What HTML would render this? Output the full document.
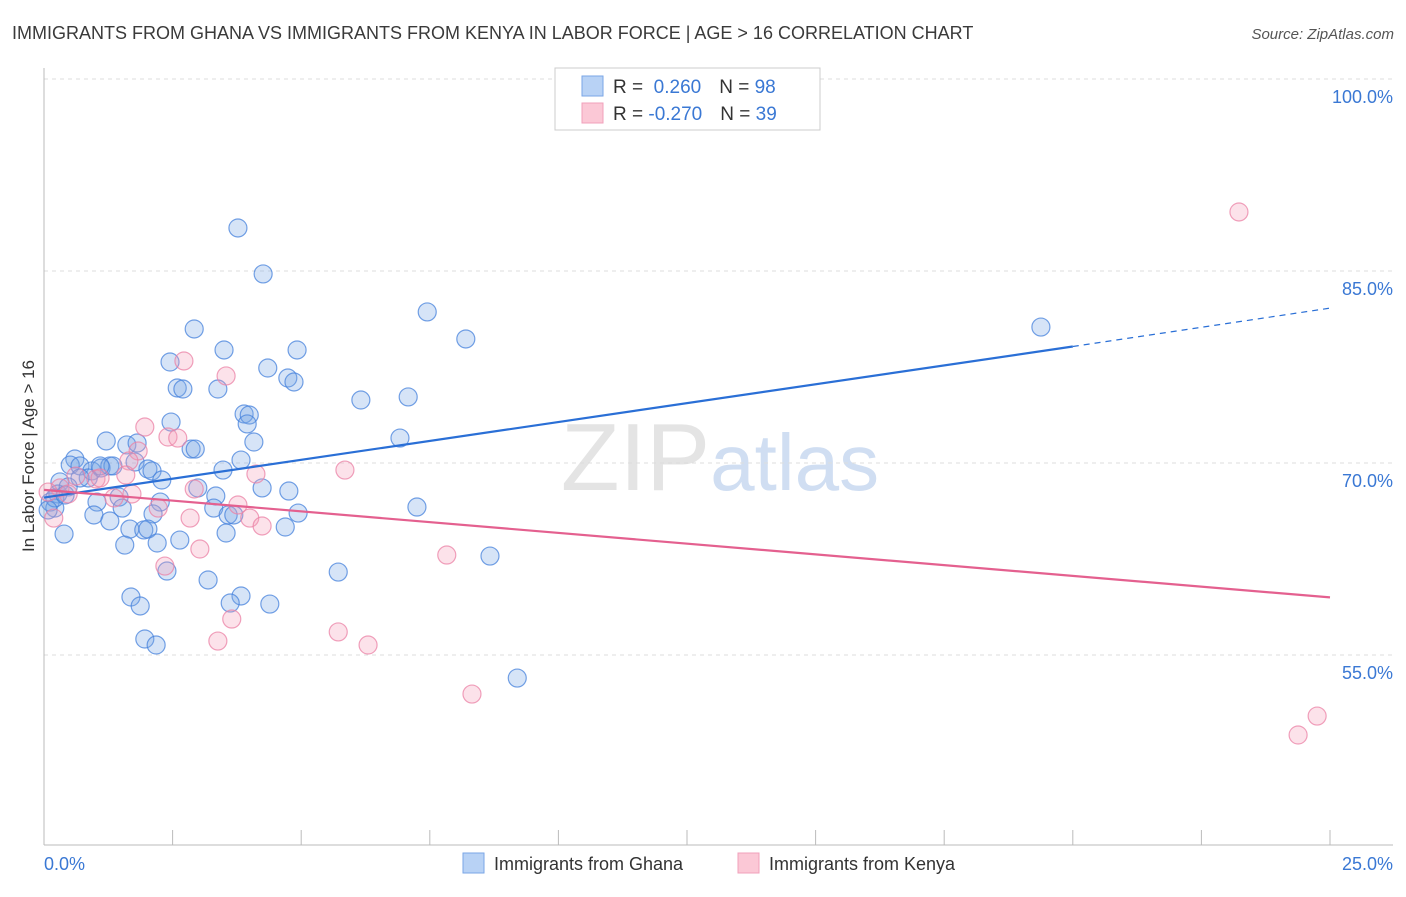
<!DOCTYPE html>
<html><head><meta charset="utf-8"><style>
body{margin:0;background:#fff;font-family:"Liberation Sans",sans-serif;}
svg text{font-family:"Liberation Sans",sans-serif;}
</style></head><body>
<svg id="chart" width="1406" height="892" xmlns="http://www.w3.org/2000/svg">
<text x="12" y="39" font-size="18" fill="#3a3a3a">IMMIGRANTS FROM GHANA VS IMMIGRANTS FROM KENYA IN LABOR FORCE | AGE &gt; 16 CORRELATION CHART</text>
<text x="1394" y="39" font-size="15" fill="#555" font-style="italic" text-anchor="end">Source: ZipAtlas.com</text>
<text x="720" y="490" font-size="96" text-anchor="middle" fill="#e4e4e4" font-family="Liberation Serif"><tspan>ZIP</tspan><tspan fill="#d0def2" font-family="Liberation Sans" font-size="80">atlas</tspan></text>
<g id="grid"></g>
<g id="axes"></g>
<g id="marks"></g>
<text transform="translate(34,456) rotate(-90)" font-size="17" fill="#333" text-anchor="middle">In Labor Force | Age &gt; 16</text>
<g>
<rect x="555" y="68" width="265" height="62" fill="#fff" stroke="#ccc"/>
<rect x="582" y="76" width="21" height="20" fill="#b8d2f5" stroke="#7aa6e6"/>
<text x="613" y="93" font-size="19" fill="#333">R = <tspan fill="#3a78d4">&#160;0.260</tspan><tspan dx="18">N = </tspan><tspan fill="#3a78d4">98</tspan></text>
<rect x="582" y="103" width="21" height="20" fill="#fbc8d6" stroke="#f0a0bb"/>
<text x="613" y="120" font-size="19" fill="#333">R = <tspan fill="#3a78d4">-0.270</tspan><tspan dx="18">N = </tspan><tspan fill="#3a78d4">39</tspan></text>
</g>
<g>
<rect x="463" y="853" width="21" height="20" fill="#b8d2f5" stroke="#7aa6e6"/>
<text x="494" y="870" font-size="18" fill="#333">Immigrants from Ghana</text>
<rect x="738" y="853" width="21" height="20" fill="#fbc8d6" stroke="#f0a0bb"/>
<text x="769" y="870" font-size="18" fill="#333">Immigrants from Kenya</text>
</g>
</svg>
<script>
const ghanaX=[3.77,4.26,7.45,8.20,19.38,2.92,3.50,4.92,2.45,4.35,4.74,4.86,2.59,2.70,3.38,6.16,7.08,3.89,3.99,3.95,2.47,6.92,1.21,1.61,1.81,2.86,2.94,4.08,3.83,1.77,0.60,0.51,0.70,0.93,1.11,1.28,1.34,2.02,2.10,3.48,2.29,0.86,0.31,0.70,0.27,0.47,2.99,4.24,4.76,1.46,3.34,2.26,0.12,0.21,1.03,1.52,7.25,3.30,3.58,3.69,4.94,2.12,0.97,1.28,1.67,1.94,2.02,4.69,3.54,0.39,1.57,2.20,2.64,8.67,2.39,3.19,5.72,1.69,1.87,3.83,3.62,4.39,1.96,2.18,9.20,0.21,0.08,0.41,1.09];
const ghanaY=[88.36,84.77,81.8,79.69,80.62,80.47,78.83,78.83,77.89,77.42,76.64,76.33,75.86,75.78,75.78,74.92,75.16,73.83,73.75,73.05,73.2,71.95,71.72,71.41,71.56,71.09,71.09,71.64,70.23,70.08,70.31,69.84,69.77,69.38,69.61,69.77,69.77,69.53,69.38,69.45,68.67,68.83,68.52,68.83,67.58,68.13,68.05,68.05,67.81,67.34,67.42,66.95,66.95,66.48,66.95,66.48,66.56,66.48,65.94,65.94,66.09,66.02,65.94,65.47,64.84,64.77,64.84,65.0,64.53,64.45,63.59,63.75,63.98,62.73,61.56,60.86,61.48,59.53,58.83,59.61,59.06,58.98,56.25,55.78,53.2,67.27,66.33,67.5,69.77];
const kenyaX=[23.23,2.72,3.54,1.96,2.41,2.60,1.83,1.65,5.85,4.12,1.59,0.62,1.01,0.31,1.71,1.36,2.92,0.47,3.77,4.00,2.84,4.24,2.22,3.03,7.83,2.35,3.65,3.38,5.72,6.30,8.32,24.75,24.38,0.19,0.08,1.09];
const kenyaY=[89.61,77.97,76.8,72.81,72.03,71.95,70.94,70.16,69.45,69.14,69.06,68.98,68.75,68.05,67.58,67.27,67.97,67.58,66.72,65.7,65.7,65.08,66.48,63.28,62.81,61.95,57.81,56.09,56.8,55.78,51.95,50.23,48.75,65.7,67.73,68.83];
const ghanaTrend=[67.3,79.1,82.1]; // at x=0, x=20, x=25
const kenyaTrend=[67.9,59.5]; // at x=0, x=25
const yTicks=[55,70,85,100];
const xTickLabels=["0.0%","25.0%"];
const NS="http://www.w3.org/2000/svg";
const X=v=>44+v*51.44, Y=v=>79+(100-v)*12.8;
function mk(parent,tag,attrs){const e=document.createElementNS(NS,tag);for(const k in attrs)e.setAttribute(k,attrs[k]);document.getElementById(parent).appendChild(e);return e;}
yTicks.forEach(t=>{
  const l=mk('grid','line',{x1:44,x2:1393,y1:Y(t),y2:Y(t),stroke:'#ddd','stroke-dasharray':'4,4'});
  
  
  const tx=mk('grid','text',{x:1393,y:Y(t)+24,'font-size':18,fill:'#3a78d4','text-anchor':'end'});
  tx.textContent=t.toFixed(1)+'%';
  
  
});
const ax=mk('axes','line',{x1:44,x2:44,y1:68,y2:845,stroke:'#bbb'});


const bx=mk('axes','line',{x1:44,x2:1393,y1:845,y2:845,stroke:'#bbb'});


for(let i=0;i<=10;i++){const t=mk('axes','line',{x1:X(i*2.5),x2:X(i*2.5),y1:830,y2:845,stroke:'#bbb'});
  
  }
[[0,'start',44],[25,'end',1393]].forEach((d,i)=>{const t=mk('axes','text',{x:d[2],y:870,'font-size':18,fill:'#3a78d4','text-anchor':d[1]});t.textContent=xTickLabels[i];
  
  });
function dots(xs,ys,fill,stroke,name){xs.forEach((x,i)=>{const c=mk('marks','circle',{cx:X(x),cy:Y(ys[i]),r:9,fill:fill,stroke:stroke,'stroke-width':1.2});
  
  });}
dots(ghanaX,ghanaY,'rgba(120,165,230,0.3)','rgba(70,130,220,0.75)','ghana-point');
dots(kenyaX,kenyaY,'rgba(245,160,185,0.3)','rgba(235,130,165,0.75)','kenya-point');
let l1=mk('marks','line',{x1:X(0),y1:Y(ghanaTrend[0]),x2:X(20),y2:Y(ghanaTrend[1]),stroke:'#2a6fd6','stroke-width':2.2});


let l2=mk('marks','line',{x1:X(20),y1:Y(ghanaTrend[1]),x2:X(25),y2:Y(ghanaTrend[2]),stroke:'#2a6fd6','stroke-width':1.2,'stroke-dasharray':'6,5'});


let l3=mk('marks','line',{x1:X(0),y1:Y(kenyaTrend[0]),x2:X(25),y2:Y(kenyaTrend[1]),stroke:'#e4608f','stroke-width':2.2});


</script>
</body></html>
